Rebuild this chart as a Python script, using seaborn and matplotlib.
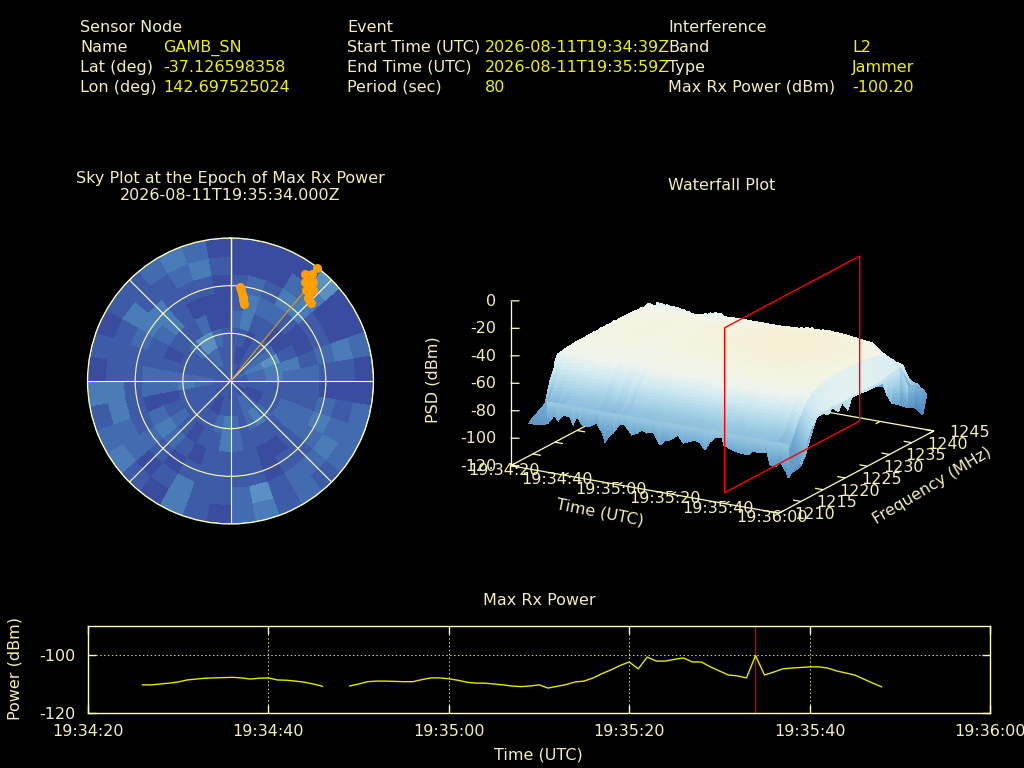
import numpy as np
import matplotlib
matplotlib.use("Agg")
import matplotlib.pyplot as plt
from matplotlib.colors import ListedColormap, LinearSegmentedColormap, Normalize
from mpl_toolkits.mplot3d import proj3d
import seaborn as sns

CREAM = '#F4EEB8'
YELLOW = '#EEEE10'
BORDER = '#FFFFB8'

# ---------- header ----------
sensor_labels = ['Sensor Node', 'Name', 'Lat (deg)', 'Lon (deg)']
sensor_values = ['', 'GAMB_SN', '-37.126598358', '142.697525024']
event_labels = ['Event', 'Start Time (UTC)', 'End Time (UTC)', 'Period (sec)']
event_values = ['', '2026-08-11T19:34:39Z', '2026-08-11T19:35:59Z', '80']
interf_labels = ['Interference', 'Band', 'Type', 'Max Rx Power (dBm)']
interf_values = ['', 'L2', 'Jammer', '-100.20']

# ---------- max rx power ----------
time_ticks = [0, 20, 40, 60, 80, 100]
time_labels = ['19:34:20', '19:34:40', '19:35:00', '19:35:20', '19:35:40', '19:36:00']
seg1_s = [6, 7, 8, 9, 10, 11, 12, 13, 14, 15, 16, 17, 18, 19, 20, 21, 22, 23, 24, 25, 26]
seg1_p = [-110.3, -110.3, -110.0, -109.7, -109.3, -108.6, -108.3, -108.0, -107.9, -107.8, -107.7,
          -107.9, -108.3, -108.0, -107.9, -108.6, -108.7, -109.0, -109.4, -110.0, -110.8]
seg2_s = [29, 30, 31, 32, 33, 34, 35, 36, 37, 38, 39, 40, 41, 42, 43, 44, 45, 46, 47, 48, 49, 50, 51, 52,
          53, 54, 55, 56, 57, 58, 59, 60, 61, 62, 63, 64, 65, 66, 67, 68, 69, 70, 71, 72, 73, 74, 75, 76,
          77, 78, 79, 80, 81, 82, 83, 84, 85, 86, 87, 88]
seg2_p = [-110.7, -110.0, -109.2, -109.0, -109.0, -109.1, -109.2, -109.2, -108.5, -107.9, -107.9, -108.2,
          -108.7, -109.4, -109.7, -109.7, -110.0, -110.3, -110.7, -110.9, -110.7, -110.3, -111.4, -110.8,
          -110.2, -109.3, -109.0, -107.9, -106.4, -105.1, -103.6, -102.4, -104.8, -100.7, -102.1, -102.1,
          -101.5, -101.0, -102.4, -102.4, -104.1, -105.5, -106.9, -107.2, -107.9, -100.2, -106.9, -105.9,
          -104.8, -104.5, -104.3, -104.1, -104.1, -104.5, -105.5, -106.2, -106.9, -108.3, -109.7, -111.0]
epoch_s = 74

# ---------- sky plot: interference level per ring (centre outward), 10-degree sectors from north ----------
sky_levels = [
 [1,1,1,0,0,1,2,1,1, 1,1,1,0,0,0,1,1,1, 0,1,1,1,0,0,1,1,1, 1,1,1,1,1,1,1,1,1],
 [1,0,0,1,1,2,3,2,2, 1,1,0,0,1,2,2,1,1, 1,1,0,0,1,1,1,1,2, 2,1,1,1,1,2,2,1,1],
 [1,1,0,1,1,2,4,3,3, 1,1,1,1,2,3,2,1,2, 3,2,1,1,1,1,1,1,3, 2,1,1,1,2,4,4,2,1],
 [2,3,1,1,0,0,1,3,2, 1,1,2,2,1,1,1,1,2, 3,1,1,0,1,2,1,0,2, 2,1,0,1,1,1,2,0,0],
 [1,3,2,2,1,0,0,1,2, 1,1,2,2,1,0,0,1,1, 1,1,0,1,2,3,2,0,2, 2,1,1,2,3,1,0,0,0],
 [1,2,1,3,3,1,1,2,1, 0,2,3,2,1,1,0,1,1, 1,1,1,0,1,2,1,1,1, 1,1,2,3,3,1,1,1,0],
 [0,0,0,2,3,0,0,3,1, 0,1,2,3,2,2,1,4,2, 1,1,3,1,0,2,2,3,3, 1,1,1,3,1,1,2,3,1],
 [0,0,0,0,4,0,0,2,0, 0,2,2,2,1,2,1,3,2, 0,1,3,0,1,3,2,1,3, 0,1,0,1,1,2,3,2,0],
]
sky_colors = ['#3A4CA0', '#3E5BA8', '#436CB0', '#4A7DB8', '#5B90C2']
track_az = [5.9, 6.6, 7.4, 8.2, 9.0, 10.0, 37.3, 34.9, 37.2, 36.9, 39.7, 39.7, 42.1, 43.3, 45.6, 36.5, 39.2, 41.8, 44.3]
track_zen = [59.5, 57.5, 55.5, 53.5, 51.5, 49.5, 89.4, 82.4, 84.9, 78.0, 81.0, 74.3, 77.0, 71.4, 70.6, 82.7, 77.8, 73.8, 71.0]
bearing_az = [39.4, 39.4]
bearing_zen = [0, 74]

# ---------- waterfall ----------
psd_times = [3, 6, 10, 14, 18, 22, 26, 30, 33, 37, 41, 45, 49, 53, 57, 61, 65, 69, 73, 77, 81, 85, 89, 93, 96, 100]
psd_freqs = [1212.3, 1213, 1214, 1215, 1216, 1217, 1218.5, 1220, 1223, 1228, 1233, 1236, 1238, 1240, 1241.5, 1243]
psd_table = [
 [-92,-90,-88,-86,-84,-70,-58,-52,-51,-51,-51,-51,-52,-53,-75,-90],
 [-92,-90,-86,-80,-72,-64,-55,-50,-48,-47,-48,-49,-50,-54,-76,-90],
 [-90,-88,-84,-78,-70,-62,-54,-49,-46,-45,-46,-48,-50,-55,-77,-90],
 [-78,-78,-76,-75,-69,-61,-53,-49,-46,-45,-45,-47,-50,-55,-77,-90],
 [-78,-78,-76,-75,-68,-60,-53,-48,-45,-44,-45,-47,-50,-55,-76,-91],
 [-78,-78,-76,-75,-68,-60,-52,-48,-45,-43,-44,-47,-50,-54,-76,-90],
 [-78,-78,-77,-76,-69,-61,-53,-49,-45,-44,-44,-47,-50,-53,-75,-90],
 [-82,-81,-79,-78,-73,-65,-56,-51,-47,-46,-46,-48,-51,-53,-75,-90],
 [-82,-81,-79,-78,-74,-66,-57,-52,-48,-46,-46,-48,-51,-52,-75,-90],
 [-78,-78,-76,-74,-67,-60,-53,-49,-45,-43,-43,-46,-49,-52,-75,-90],
 [-78,-78,-76,-75,-68,-60,-53,-48,-45,-43,-43,-46,-49,-52,-75,-90],
 [-78,-78,-76,-74,-67,-60,-52,-48,-44,-42,-43,-46,-49,-52,-75,-90],
 [-78,-78,-76,-75,-69,-61,-53,-48,-44,-42,-42,-45,-48,-52,-76,-90],
 [-78,-78,-76,-75,-69,-61,-53,-48,-44,-41,-42,-45,-48,-52,-76,-90],
 [-78,-78,-76,-75,-68,-60,-52,-47,-43,-41,-41,-44,-47,-52,-76,-90],
 [-78,-78,-76,-75,-68,-60,-52,-47,-43,-40,-41,-44,-47,-51,-75,-90],
 [-78,-78,-76,-75,-68,-60,-52,-47,-42,-40,-40,-43,-46,-50,-75,-90],
 [-78,-78,-76,-75,-68,-60,-52,-46,-42,-39,-40,-43,-46,-49,-74,-90],
 [-76,-76,-75,-74,-67,-59,-51,-46,-41,-38,-39,-42,-45,-50,-74,-90],
 [-76,-76,-75,-73,-66,-59,-51,-46,-41,-38,-39,-42,-45,-51,-75,-90],
 [-78,-78,-76,-75,-68,-60,-52,-47,-42,-39,-40,-43,-46,-52,-75,-90],
 [-78,-78,-76,-75,-68,-60,-52,-47,-43,-40,-41,-44,-47,-53,-76,-90],
 [-78,-78,-76,-75,-68,-60,-53,-48,-44,-41,-42,-45,-48,-60,-76,-90],
 [-78,-78,-77,-76,-70,-62,-54,-49,-45,-43,-44,-47,-55,-62,-78,-90],
 [-85,-85,-83,-82,-74,-66,-57,-51,-47,-46,-48,-51,-58,-66,-80,-90],
 [-98,-95,-95,-94,-88,-78,-65,-64,-64,-64,-65,-62,-60,-78,-80,-91],
]
# lower fringe of the front face, read along the silhouette
front_t = [10.1, 12.7, 13.9, 15.7, 18.3, 19.5, 20.9, 22.8, 25.0, 28.4, 30.3, 31.4, 32.5, 34.4, 37.0, 38.8,
           41.4, 43.3, 45.2, 47.0, 49.3, 51.9, 53.7, 55.6, 57.5, 58.6, 60.5, 62.3, 64.9, 66.8, 68.7, 70.5,
           72.4, 75.0, 75.7, 78.7, 81.7, 84.7, 86.5, 89.2, 91.8, 92.9, 94.7, 96.6, 98.5, 99.6]
front_z = [-85.7, -83.4, -86.6, -81.6, -82.2, -87.6, -80.6, -86.4, -87.1, -83.1, -89.7, -95.9, -92.5, -88.2,
           -80.8, -80.9, -87.3, -85.2, -82.3, -83.9, -82.3, -90.9, -87.3, -86.0, -83.1, -81.3, -86.5, -85.1,
           -82.8, -84.3, -88.7, -82.3, -78.7, -77.1, -82.7, -85.2, -86.4, -86.8, -83.3, -83.8, -82.2, -91.3,
           -92.1, -88.5, -91.5, -98.4]
# edge of the last time slice: frequency, lower silhouette, upper limit
right_f = [1213.2, 1214.8, 1217.7, 1218.6, 1219.9, 1221.1, 1222.0, 1223.4, 1224.3, 1225.6, 1226.5, 1228.3,
           1229.9, 1231.2, 1233.5, 1234.4, 1235.5, 1237.3, 1239.1, 1240.7, 1242.5, 1243.4]
right_z = [-95.4, -94.5, -71.9, -64.7, -64.0, -67.5, -63.3, -69.2, -64.2, -71.6, -63.6, -63.8, -65.1, -65.1,
           -65.4, -75.6, -83.4, -87.9, -93.2, -95.9, -104.0, -91.0]
right_cap = [-94, -93, -70, -64, -63.5, -64, -63, -64, -64, -64, -63.5, -63.5, -64, -64, -64, -63, -62, -61,
             -78, -80, -85, -91]
# upper silhouette along the high-frequency plateau edge (f = 1240), one value per second from t = 5
back_t = list(range(5, 91))
back_z = [-50.5, -51.5, -50.8, -51.9, -51, -52.2, -51.3, -52.4, -51.6, -52.8, -52.4, -54, -53.4, -55.2, -56, -58,
          -54.6, -54.2, -52.6, -53.2, -51.4, -52, -50.4, -51.2, -50.6, -52, -52.4, -54, -53.8, -55, -54.2, -54.8,
          -53.6, -53, -52.6, -52, -52.8, -52.2, -53.4, -52.6, -53.6, -52.8, -54, -53, -54, -53, -52.6, -53.4, -52,
          -52.8, -51.4, -51.8, -50.8, -51.6, -50.2, -51, -49.4, -50.2, -49.2, -50.4, -49.4, -50.2, -49.2, -50,
          -49.4, -50, -49.6, -50.6, -49.8, -50.8, -50.2, -51.2, -51, -52.6, -53.2, -55.4, -54.4, -54, -53.2, -53.6,
          -52.4, -54, -56.6, -60, -63.5, -63]
# upper silhouette along the first time slice (t = 3)
left_f = [1218, 1218.75, 1219.5, 1220.25, 1221, 1221.75, 1222.5, 1223.25, 1224, 1224.75, 1225.5, 1226.25, 1227,
          1227.75, 1228.5, 1229.25, 1230, 1230.75, 1231.5, 1232.25, 1233, 1233.75, 1234.5, 1235.25, 1236, 1236.75,
          1237.5, 1238.25, 1239, 1239.75]
left_z = [-58.5, -53, -52.2, -53, -51.6, -52.8, -51.4, -52.6, -51, -52, -50.6, -51.6, -50.2, -51.2, -50, -51,
          -50.2, -51.2, -50.2, -51.4, -50.6, -51.8, -50.8, -52, -51, -52.2, -51.2, -52.2, -51, -51.6]
freq_ticks = [1210, 1215, 1220, 1225, 1230, 1235, 1240, 1245]
psd_ticks = [0, -20, -40, -60, -80, -100, -120]
plane_freqs = [1213.5, 1244]
psd_colors = [(0.0, '#4E83BC'), (0.25, '#6EA8D0'), (0.5, '#A8D4E8'), (0.67, '#D0EAF2'),
              (0.8, '#EEF4EE'), (0.92, '#F4F4E2'), (1.0, '#F5F0D6')]

sns.set_theme(style='dark', rc={
    'figure.facecolor': 'black', 'axes.facecolor': 'black', 'savefig.facecolor': 'black',
    'text.color': CREAM, 'axes.labelcolor': CREAM, 'xtick.color': CREAM, 'ytick.color': CREAM,
    'axes.edgecolor': BORDER})
plt.rcParams['font.family'] = ['DejaVu Sans']
FS = 11.5

W, H = 1024, 768
fig = plt.figure(figsize=(W / 100, H / 100), dpi=100)

def put(x, y, s, color=CREAM, ha='left', rotation=0, **kw):
    a = np.radians(rotation)
    bx, by = x + 5 * np.sin(a), y + 5 * np.cos(a)
    return fig.text(bx / W, 1 - by / H, s, color=color, fontsize=FS, ha=ha, va='baseline',
                    rotation=rotation, rotation_mode='anchor', zorder=10, **kw)

for col_x, val_x, labs, vals in [(80, 163, sensor_labels, sensor_values),
                                 (347, 485, event_labels, event_values),
                                 (668, 852, interf_labels, interf_values)]:
    for i, (l, v) in enumerate(zip(labs, vals)):
        y = 27 + 20 * i
        put(col_x, y, l)
        if v:
            put(val_x, y, v, color=YELLOW)

# ---------- sky plot ----------
put(230, 178, 'Sky Plot at the Epoch of Max Rx Power', ha='center')
put(230, 195, '2026-08-11T19:35:34.000Z', ha='center')
ax_sky = fig.add_axes([87.5 / W, 1 - 524 / H, 286 / W, 286 / H], projection='polar')
ax_sky.set_theta_zero_location('N')
ax_sky.set_theta_direction(-1)
theta_edges = np.radians(np.arange(0, 361, 10))
r_edges = np.linspace(0, 90, len(sky_levels) + 1)
ax_sky.pcolormesh(theta_edges, r_edges, np.array(sky_levels), cmap=ListedColormap(sky_colors),
                  vmin=-0.5, vmax=4.5, shading='flat', linewidth=0, antialiased=False, zorder=1)
ax_sky.set_ylim(0, 90)
ax_sky.set_rticks([30, 60, 90])
ax_sky.set_thetagrids(np.arange(0, 360, 45), labels=[''] * 8)
ax_sky.set_yticklabels([])
ax_sky.grid(True, color=BORDER, lw=0.8, ls='-', zorder=2)
ax_sky.set_axisbelow(False)
ax_sky.spines['polar'].set_color(BORDER)
ax_sky.spines['polar'].set_linewidth(0.9)
# closes the seam of the mesh at north, under the north spoke
ax_sky.plot([0, 0], [0, 90], color=sky_colors[0], lw=2.0, zorder=1.5)
ax_sky.plot([0, 0], [0, 90], color=BORDER, lw=1.0, zorder=2.5)
ax_sky.plot(np.radians(bearing_az), bearing_zen, color='#E09A20', lw=0.8, zorder=3)
ax_sky.scatter(np.radians(track_az), track_zen, s=42, color='#FFA000', linewidths=0, zorder=4, clip_on=False)

# ---------- waterfall ----------
put(721.5, 185, 'Waterfall Plot', ha='center')
ax3 = fig.add_axes([200 / W, 1 - 700 / H, 600 / W, 600 / H], projection='3d', proj_type='ortho',
                   computed_zorder=False)
ax3.view_init(elev=17.85, azim=-60)
ax3.set_xlim(0, 100, view_margin=0)
ax3.set_ylim(1210, 1245, view_margin=0)
ax3.set_zlim(-120, 0, view_margin=0)
ax3.set_axis_off()
ax3.patch.set_alpha(0)
ASPECT = (1, 1, 0.559)
ax3.set_box_aspect(ASPECT, zoom=1)

def scr(t, f, z):
    xp, yp, _ = proj3d.proj_transform(t, f, z, ax3.get_proj())
    return ax3.transData.transform((xp, yp))

ax3.apply_aspect()
p0, p1 = scr(0, 1210, -120), scr(100, 1210, -120)
ax3.set_box_aspect(ASPECT, zoom=(778.9 - 510.6) / (p1[0] - p0[0]))
ax3.apply_aspect()
p0 = scr(0, 1210, -120)
dx, dy = 510.6 - p0[0], (H - 465.7) - p0[1]
pos = ax3.get_position(original=True)
ax3.set_position([pos.x0 + dx / W, pos.y0 + dy / H, pos.width, pos.height])
ax3.apply_aspect()

def seg3(t, f, z, color=BORDER, lw=0.9, zo=1):
    ax3.plot(t, f, z, color=color, lw=lw, zorder=zo, solid_capstyle='butt')

seg3([0, 100, 100, 0, 0], [1210, 1210, 1245, 1245, 1210], [-120] * 5)
seg3([0, 0], [1210, 1210], [-120, 0])
for t in time_ticks:
    seg3([t, t], [1210, 1211], [-120, -120])
    seg3([t, t], [1245, 1244], [-120, -120])
for f in freq_ticks:
    seg3([100, 97], [f, f], [-120, -120])
    seg3([0, 3], [f, f], [-120, -120])
for z in psd_ticks:
    seg3([0, 2.5], [1210, 1210.5], [z, z])

psd_cmap = LinearSegmentedColormap.from_list('psd', psd_colors)
psd_norm = Normalize(-100, -40)

def curtain(t, f, top, bottom, zo, bands=10):
    """Hanging strip between two read silhouettes, shaded by height."""
    t, f, top, bottom = map(lambda a: np.asarray(a, dtype=float), (t, f, top, bottom))
    fr = np.linspace(0, 1, bands)[:, None]
    ZZ = top[None, :] * (1 - fr) + bottom[None, :] * fr
    TT = np.tile(t, (bands, 1))
    FF = np.tile(f, (bands, 1))
    ax3.plot_surface(TT, FF, ZZ, cmap=psd_cmap, norm=psd_norm, rstride=1, cstride=1,
                     shade=False, linewidth=0, antialiased=False, zorder=zo)

# each facet of the read table is split along frequency only so its height shading runs smoothly;
# the facets stay in their planes
Z_read = np.array(psd_table, dtype=float)
f_shade = np.concatenate([np.linspace(a, b, 5)[:-1] for a, b in zip(psd_freqs[:-1], psd_freqs[1:])] + [[psd_freqs[-1]]])
Z_shade = np.array([np.interp(f_shade, psd_freqs, row) for row in Z_read])
T, F = np.meshgrid(psd_times, f_shade, indexing='ij')
# upper fringes sit behind the surface, so that only their spikes show
curtain(back_t, [1240] * len(back_t), back_z, np.array(back_z) - 6, 1.5, bands=2)
curtain([3] * len(left_f), left_f, left_z, np.array(left_z) - 6, 1.5, bands=2)
ax3.plot_surface(T, F, Z_shade, cmap=psd_cmap, norm=psd_norm, rstride=1, cstride=1,
                 shade=False, linewidth=0, antialiased=False, zorder=2)
curtain(front_t, [1212.3] * len(front_t), [-74] * len(front_t), front_z, 2.5)
curtain([100] * len(right_f), right_f, right_cap, right_z, 2.6)

pt = [epoch_s] * 5
pf = [plane_freqs[0], plane_freqs[1], plane_freqs[1], plane_freqs[0], plane_freqs[0]]
pz = [-120, -120, 0, 0, -120]
seg3(pt, pf, pz, color='#FF0000', lw=1, zo=3)

for t, lab in zip(time_ticks, time_labels):
    p = scr(t, 1210, -120)
    put(p[0] - 7, H - p[1] + 4, lab, ha='center')
for f in freq_ticks:
    p = scr(100, f, -120)
    put(p[0] + 36, H - p[1] + 1, str(f), ha='center')
for z in psd_ticks:
    p = scr(0, 1210, z)
    put(p[0] - 14, H - p[1], str(z), ha='right')
put(600, 512, 'Time (UTC)', ha='center', rotation=-11)
put(932, 485, 'Frequency (MHz)', ha='center', rotation=31)
put(433, 380, 'PSD (dBm)', ha='center', rotation=90)

# ---------- max rx power ----------
put(539, 600, 'Max Rx Power', ha='center')
ax = fig.add_axes([88 / W, 1 - 713 / H, 902 / W, 87 / H])
sns.lineplot(x=seg1_s, y=seg1_p, color='#E6E600', lw=1, ax=ax, errorbar=None)
sns.lineplot(x=seg2_s, y=seg2_p, color='#E6E600', lw=1, ax=ax, errorbar=None)
ax.axvline(epoch_s, color='#D00000', lw=1, zorder=1)
ax.set_xlim(0, 100)
ax.set_ylim(-120, -90)
ax.set_xticks(time_ticks)
ax.set_xticklabels(time_labels, fontsize=FS, color=CREAM)
ax.set_yticks([-120, -100])
ax.set_yticklabels(['-120', '-100'], fontsize=FS, color=CREAM)
ax.tick_params(direction='in', length=6, width=1, top=True, right=True, bottom=True, left=True,
               color=BORDER)
ax.tick_params(axis='x', pad=8)
ax.tick_params(axis='y', pad=9)
ax.grid(True, color=BORDER, ls=(0, (1.5, 2.5)), lw=0.7, alpha=0.85)
for s in ax.spines.values():
    s.set_color(BORDER)
    s.set_linewidth(1)
ax.set_xlabel('')
ax.set_ylabel('')
put(538, 754, 'Time (UTC)', ha='center')
put(15, 668, 'Power (dBm)', ha='center', rotation=90)

fig.savefig('out.png', dpi=100, facecolor='black')
